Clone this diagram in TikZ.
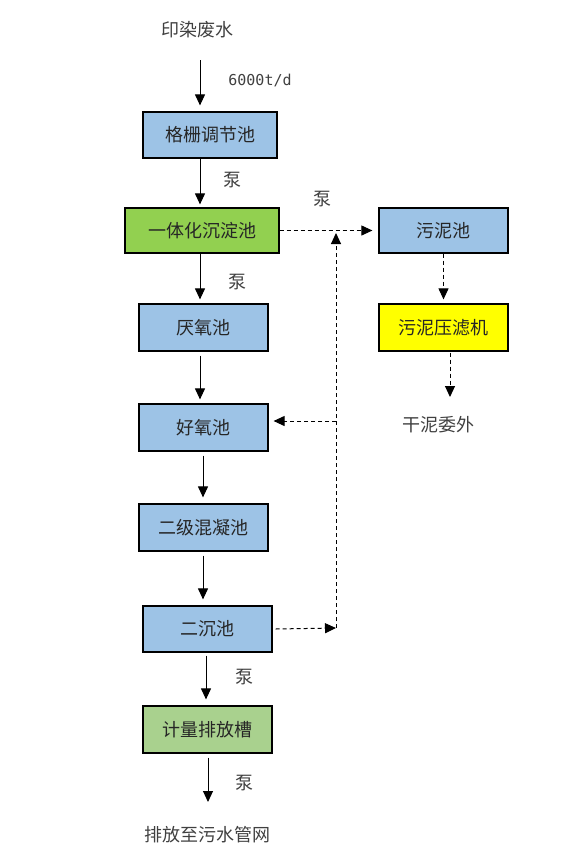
\documentclass[tikz,border=0pt]{standalone}
\usepackage{fontspec}
\newfontfamily\cjk{Noto Sans CJK SC}
\newfontfamily\monof{DejaVu Sans Mono}
\usetikzlibrary{arrows.meta}
\definecolor{boxblue}{HTML}{9DC3E6}
\definecolor{boxgreen}{HTML}{92D050}
\definecolor{boxlgreen}{HTML}{A9D18E}
\definecolor{boxyellow}{HTML}{FFFF00}
\definecolor{txtgray}{HTML}{404040}
\definecolor{txtdark}{HTML}{262626}
\begin{document}
\begin{tikzpicture}[x=1pt,y=-1pt,
  procbox/.style={draw=black,line width=1.2pt,minimum width=129pt,minimum height=46pt,inner sep=0pt,
    font=\cjk\fontsize{18}{21}\selectfont,text=txtdark},
  lbl/.style={font=\cjk\fontsize{18}{21}\selectfont,text=txtgray,inner sep=0pt},
  arr/.style={line width=1pt,-{Triangle[width=10pt,length=11pt]}},
  darr/.style={line width=1pt,dash pattern=on 4pt off 3pt,-{Triangle[width=10pt,length=11pt]}}]
\useasboundingbox (0,0) rectangle (587,849);
% boxes
\node[procbox,fill=boxblue,minimum width=134pt] (b1) at (210,135) {格栅调节池};
\node[procbox,fill=boxgreen,minimum width=154pt,minimum height=45pt] (b2) at (202,230.5) {一体化沉淀池};
\node[procbox,fill=boxblue,minimum height=45pt] (s1) at (443.5,230.5) {污泥池};
\node[procbox,fill=boxyellow,minimum height=47pt] (s2) at (443.5,327.5) {污泥压滤机};
\node[procbox,fill=boxblue,minimum height=47pt] (b3) at (203.5,327.5) {厌氧池};
\node[procbox,fill=boxblue,minimum height=47pt] (b4) at (203.5,427.5) {好氧池};
\node[procbox,fill=boxblue,minimum height=47pt] (b5) at (203.5,527.5) {二级混凝池};
\node[procbox,fill=boxblue] (b6) at (207.5,629) {二沉池};
\node[procbox,fill=boxlgreen,minimum height=47pt] (b7) at (207.5,729.5) {计量排放槽};
% texts
\node[lbl] (src) at (197,30) {印染废水};
\node[lbl] (out) at (207,835) {排放至污水管网};
\node[lbl] (dry) at (438,425) {干泥委外};
\node[font=\monof\fontsize{15}{18}\selectfont,text=txtgray,inner sep=0pt] (flow) at (260,80) {6000t/d};
\node[lbl] (p1) at (232,180) {泵};
\node[lbl] (p2) at (237,282) {泵};
\node[lbl] (p3) at (322,199) {泵};
\node[lbl] (p4) at (244,677) {泵};
\node[lbl] (p5) at (244,783) {泵};
% helper coordinates
\coordinate (srcend) at (200,60);
\coordinate (outend) at (208,802);
\coordinate (j1) at (336,628);
\coordinate (j2) at (336,230);
\coordinate (j3) at (336,421);
\coordinate (dryend) at (450,397);
% solid arrows
\draw[arr] (srcend) -- ([xshift=-10pt,yshift=6pt]b1.north);
\draw[arr] ([xshift=-10pt]b1.south) -- ([xshift=-2pt,yshift=3pt]b2.north);
\draw[arr] ([xshift=-2pt]b2.south) -- ([xshift=-3.5pt,yshift=4pt]b3.north);
\draw[arr] ([xshift=-3.5pt,yshift=-4pt]b3.south) -- ([xshift=-3.5pt,yshift=4pt]b4.north);
\draw[arr] ([xshift=-0.5pt,yshift=-4pt]b4.south) -- ([xshift=-0.5pt,yshift=6pt]b5.north);
\draw[arr] ([xshift=-0.5pt,yshift=-4pt]b5.south) -- ([xshift=-4.5pt,yshift=6pt]b6.north);
\draw[arr] ([xshift=-1.5pt,yshift=-3pt]b6.south) -- ([xshift=-1.5pt,yshift=6pt]b7.north);
\draw[arr] ([xshift=0.5pt,yshift=-4pt]b7.south) -- (outend);
% dashed
\draw[darr] (b2.east) -- ([xshift=-6pt]s1.west);
\draw[darr] (s1.south) -- ([yshift=4pt]s2.north);
\draw[darr] ([xshift=6.5pt,yshift=-1pt]s2.south) -- (dryend);
\draw[darr] ([xshift=3pt]b6.east) -- (j1);
\draw[darr] (j1) -- ([yshift=-3pt]j2);
\draw[darr] (j3) -- ([xshift=5pt,yshift=6.5pt]b4.east);
\end{tikzpicture}
\end{document}
